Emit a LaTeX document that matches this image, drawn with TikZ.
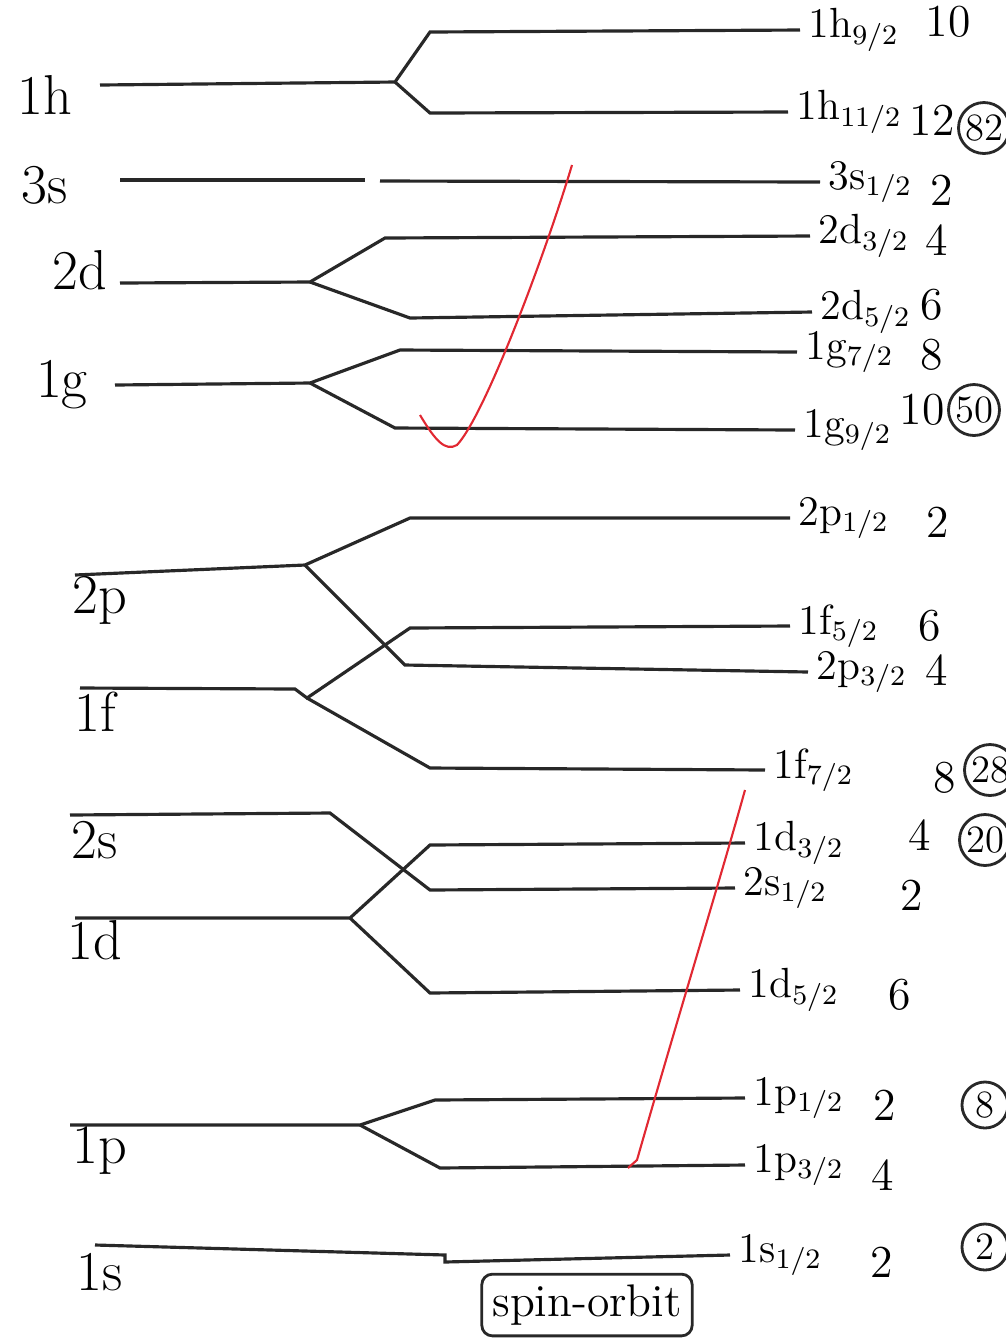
\documentclass[tikz,border=0pt]{standalone}
\usepackage{tikz}
\usepackage{xcolor}
\usetikzlibrary{calc}
\definecolor{inkgray}{RGB}{40,40,40}
\definecolor{inkred}{RGB}{225,40,50}

\begin{document}
\begin{tikzpicture}[x=0.01cm,y=-0.01cm,line width=0.9pt,draw=inkgray,
  shell/.style={font=\fontsize{16}{18}\selectfont,inner sep=1pt},
  sublvl/.style={anchor=west,font=\fontsize{12}{14}\selectfont,inner sep=2pt},
  degen/.style={font=\fontsize{13}{15}\selectfont,inner sep=1pt},
  magic/.style={circle,draw,line width=0.8pt,inner sep=0.5pt,minimum size=4.6mm,font=\fontsize{11}{13}\selectfont}]
\useasboundingbox (0,0) rectangle (1005,1338);
% shell labels on the left
\foreach \n/\x/\y/\t in {l1h/45/95/1h,l3s/45/185/3s,l2d/80/270/2d,l1g/62/385/1g,
  l2p/100/600/2p,l1f/95/712/1f,l2s/95/840/2s,l1d/95/940/1d,l1p/100/1150/1p,l1s/100/1272/1s}
  \node[shell] (\n) at (\x,\y) {\t};
% split levels on the right
\foreach \n/\x/\y/\t in {h9/800/30/{1h$_{9/2}$},h11/788/112/{1h$_{11/2}$},s3/820/182/{3s$_{1/2}$},
  d3/810/236/{2d$_{3/2}$},d5/812/312/{2d$_{5/2}$},g7/797/352/{1g$_{7/2}$},g9/795/430/{1g$_{9/2}$},
  p1/790/518/{2p$_{1/2}$},f5/790/626/{1f$_{5/2}$},p3/808/672/{2p$_{3/2}$},f7/765/770/{1f$_{7/2}$},
  dd3/745/843/{1d$_{3/2}$},s2/735/888/{2s$_{1/2}$},dd5/740/990/{1d$_{5/2}$},
  pp1/745/1098/{1p$_{1/2}$},pp3/745/1165/{1p$_{3/2}$},s1/730/1255/{1s$_{1/2}$}}
  \node[sublvl] (\n) at (\x,\y) {\t};
% degeneracies
\foreach \x/\y/\t in {948/22/10,932/120/12,942/190/2,937/240/4,932/305/6,932/355/8,922/410/10,
  938/522/2,930/626/6,937/670/4,945/778/8,920/835/4,912/895/2,900/995/6,885/1105/2,883/1175/4,882/1262/2}
  \node[degen] at (\x,\y) {\t};
% magic numbers
\foreach \n/\x/\y/\t in {m82/984/128/82,m50/974/410/50,m28/990/770/28,m20/985/840/20,m8/985/1105/8,m2/985/1247/2}
  \node[magic] (\n) at (\x,\y) {\t};
% 1h
\draw (100,85) -- (395,82) coordinate (bh) -- (430,32) -- (h9.west);
\draw (bh) -- (430,113) -- (h11.west);
% 3s
\draw (120,180) -- (365,180);
\draw (380,181) -- (s3.west);
% 2d
\draw (120,283) -- (310,282) coordinate (bd) -- (385,238) -- (d3.west);
\draw (bd) -- (410,318) -- (d5.west);
% 1g
\draw (115,385) -- (310,383) coordinate (bg) -- (400,350) -- (g7.west);
\draw (bg) -- (395,428) -- (g9.west);
% 2p
\draw (75,575) -- (305,565) coordinate (bp) -- (410,518) -- (p1.west);
\draw (bp) -- (405,665) -- (p3.west);
% 1f
\draw (80,688) -- (295,689) -- (307,698) coordinate (bf) -- (410,628) -- (f5.west);
\draw (bf) -- (430,768) -- (f7.west);
% 2s
\draw (70,815) -- (330,813) -- (430,890) -- (s2.west);
% 1d
\draw (75,918) -- (350,918) coordinate (bdd) -- (430,845) -- (dd3.west);
\draw (bdd) -- (430,993) -- (dd5.west);
% 1p
\draw (70,1125) -- (360,1125) coordinate (bpp) -- (435,1100) -- (pp1.west);
\draw (bpp) -- (440,1168) -- (pp3.west);
% 1s
\draw (95,1245) -- (445,1255) -- (445,1262) -- (s1.west);
\node[draw,rounded corners=3pt,line width=0.8pt,inner sep=3pt,font=\fontsize{13}{15}\selectfont] (so) at (587,1305) {spin-orbit};
% red ticks
\draw[inkred,line width=0.6pt] (420,415) .. controls (435,440) and (445,452) .. (457,445)
  .. controls (485,415) and (545,255) .. (572,165);
\draw[inkred,line width=0.6pt] (628,1168) -- (637,1160) .. controls (680,1010) and (720,880) .. (745,790);
\end{tikzpicture}
\end{document}
